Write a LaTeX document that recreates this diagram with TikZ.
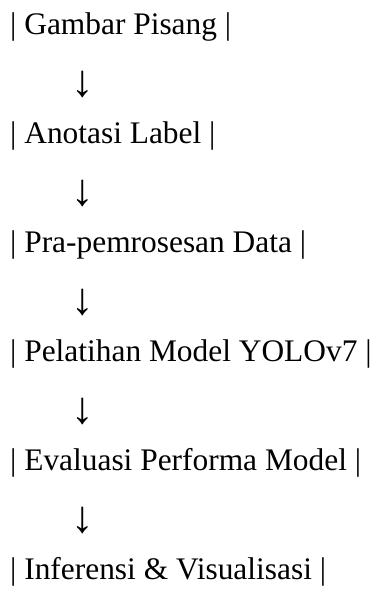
\documentclass[tikz,border=0pt]{standalone}
\usepackage{fontspec}
\setmainfont{Liberation Serif}
\begin{document}
\begin{tikzpicture}[x=1pt,y=1pt,
  stage/.style={anchor=base west,inner sep=0pt,font=\fontsize{31.4}{31.4}\selectfont},
  down/.style={anchor=base,inner sep=0pt,font=\fontsize{45}{45}\selectfont}]
\useasboundingbox (0,0) rectangle (379,590);
% stage rows: baselines 109pt apart, arrows between them
\node[stage] (s1) at (10,555) {| Gambar Pisang |};
\node[down]  (a1) at (83,493) {↓};
\node[stage] (s2) at (10,446) {| Anotasi Label |};
\node[down]  (a2) at (83,384) {↓};
\node[stage] (s3) at (10,337) {| Pra-pemrosesan Data |};
\node[down]  (a3) at (83,275) {↓};
\node[stage] (s4) at (10,228) {| Pelatihan Model YOLOv7 |};
\node[down]  (a4) at (83,166) {↓};
\node[stage] (s5) at (10,119) {| Evaluasi Performa Model |};
\node[down]  (a5) at (83,57) {↓};
\node[stage] (s6) at (10,10) {| Inferensi \& Visualisasi |};
\end{tikzpicture}
\end{document}
